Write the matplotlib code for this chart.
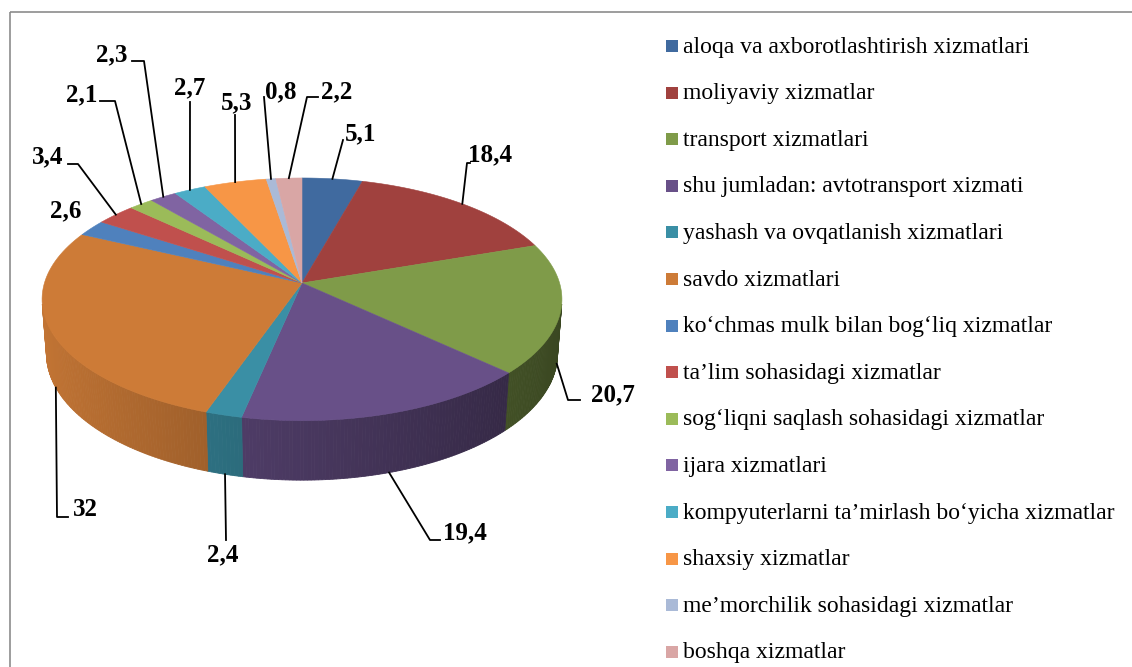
import matplotlib.pyplot as plt
import numpy as np
from matplotlib.patches import Polygon, Rectangle
from matplotlib.colors import to_rgb

# data
categories = ["aloqa va axborotlashtirish xizmatlari", "moliyaviy xizmatlar",
              "transport xizmatlari", "shu jumladan: avtotransport xizmati",
              "yashash va ovqatlanish xizmatlari", "savdo xizmatlari",
              "ko\u2018chmas mulk bilan bog\u2018liq xizmatlar", "ta\u2019lim sohasidagi xizmatlar",
              "sog\u2018liqni saqlash sohasidagi xizmatlar", "ijara xizmatlari",
              "kompyuterlarni ta\u2019mirlash bo\u2018yicha xizmatlar", "shaxsiy xizmatlar",
              "me\u2019morchilik sohasidagi xizmatlar", "boshqa xizmatlar"]
values = [5.1, 18.4, 20.7, 19.4, 2.4, 32, 2.6, 3.4, 2.1, 2.3, 2.7, 5.3, 0.8, 2.2]
colors = ["#406A9F", "#A0413E", "#7F9B49", "#685088", "#3A8FA5", "#CD7B37",
          "#4F81BD", "#C0504D", "#9BBB59", "#8064A2", "#4BACC6", "#F79646",
          "#AABAD7", "#D9A6A5"]

# label layout (text centre, elbow point, end x of the short horizontal tick)
label_pos = [(361, 134), (490, 155), (613, 395), (465, 533), (223, 555), (85, 510),
             (66, 211), (48, 157), (82, 95), (112, 55), (190, 88), (237, 103),
             (281, 92), (337, 92)]
elbows = [(343, 140), (467, 163), (568, 400), (430, 540), (226, 540), (57, 517),
          None, (78, 164), (115, 101), (144, 61), (190, 102), (235, 115),
          (264, 97), (307, 97)]
tick_end = [None, 470, 580, 440, None, 68, None, 68, 100, 132, None, None, None, 318]

# 3d view of the pie
cx, cy = 302, 283
f, d = 1700.0, 6.6
s_e, c_e = 0.4625, 0.887
h = 0.24


def proj(t_deg, Y):
    t = np.radians(t_deg)
    X = np.sin(t)
    Z = -np.cos(t)
    yc = Y * c_e - Z * s_e
    zc = d - (Y * s_e + Z * c_e)
    return cx + f * X / zc, cy - f * yc / zc


fig = plt.figure(figsize=(11.32, 6.67), dpi=100)
ax = fig.add_axes([0, 0, 1, 1])
ax.set_xlim(0, 1132)
ax.set_ylim(667, 0)
ax.axis('off')

ax.add_patch(Rectangle((10, 12), 1140, 700, fill=False, edgecolor='#8c8c8c', lw=1.2))

total = sum(values)
bounds = np.concatenate([[0], np.cumsum(values)]) / total * 360

# sides (front part only)
z_vis = 1.0 / (d * c_e)
for i, col in enumerate(colors):
    base = np.array(to_rgb(col))
    ts = np.linspace(bounds[i], bounds[i + 1], max(3, int((bounds[i + 1] - bounds[i]) / 0.7)))
    for a, b in zip(ts[:-1], ts[1:]):
        m = np.radians((a + b) / 2)
        if -np.cos(m) <= z_vis:
            continue
        k = 0.45 + 0.25 * (1 - np.sin(m))
        x1, y1 = proj(np.array([a, b]), 0)
        x2, y2 = proj(np.array([b, a]), -h)
        ax.add_patch(Polygon(np.column_stack([np.r_[x1, x2], np.r_[y1, y2]]),
                             closed=True, facecolor=base * k, edgecolor=base * k, lw=0.6))

# top faces
for i, col in enumerate(colors):
    ts = np.linspace(bounds[i], bounds[i + 1], 60)
    xs, ys = proj(ts, 0)
    pts = np.column_stack([np.r_[cx, xs], np.r_[cy, ys]])
    ax.add_patch(Polygon(pts, closed=True, facecolor=col, edgecolor=col, lw=0.4))

# labels with leader lines
for i, v in enumerate(values):
    txt = f"{v:g}".replace('.', ',')
    ax.text(label_pos[i][0], label_pos[i][1], txt, ha='center', va='center',
            fontsize=18, fontweight='bold', family='Liberation Serif')
    if elbows[i] is None:
        continue
    mid = (bounds[i] + bounds[i + 1]) / 2
    Y = -h if -np.cos(np.radians(mid)) > 0 else 0
    ax0, ay0 = proj(mid, Y)
    lx = [ax0, elbows[i][0]]
    ly = [ay0, elbows[i][1]]
    if tick_end[i] is not None:
        lx.append(tick_end[i])
        ly.append(elbows[i][1])
    ax.plot(lx, ly, color='black', lw=1.3)

# legend
for i, (name, col) in enumerate(zip(categories, colors)):
    y = 46 + i * 46.6
    ax.add_patch(Rectangle((666, y - 6), 12, 12, facecolor=col, edgecolor='none'))
    ax.text(683, y + 1, name, ha='left', va='center', fontsize=17, family='Liberation Serif')

fig.savefig('out.png', dpi=100)
